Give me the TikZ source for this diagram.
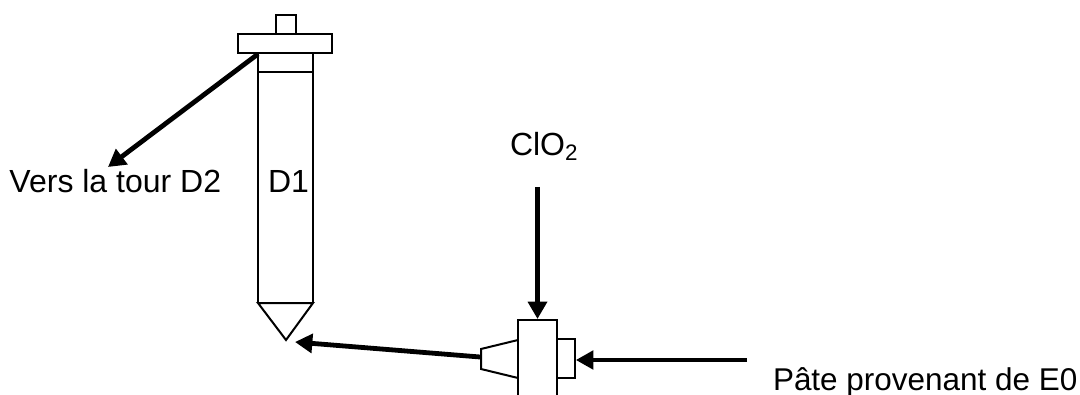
\documentclass[tikz,border=0pt]{standalone}
\usepackage{fontspec}
\setmainfont{Liberation Sans}
\usetikzlibrary{arrows.meta}
\tikzset{
  x=0.75pt,y=-0.75pt,
  part/.style={draw=black,line width=1.5pt,fill=white,inner sep=0pt,outer sep=0pt,rectangle,anchor=north west},
  outl/.style={draw=black,line width=1.5pt,line join=miter},
  flow/.style={draw=black,line width=3.6pt,-{Triangle[width=14pt,length=13pt]},shorten >=0pt},
  lab/.style={font=\fontsize{23.6pt}{28pt}\selectfont,inner sep=0pt,outer sep=0pt,text=black},
  labbig/.style={font=\fontsize{24pt}{28pt}\selectfont,inner sep=0pt,outer sep=0pt,text=black}
}
\begin{document}
\begin{tikzpicture}
\useasboundingbox (0,0) rectangle (1080,395);
% tower D1
\draw[outl] (258,53) -- (258,303) (313,53) -- (313,303);
\draw[outl] (258,72) -- (313,72);
\draw[outl] (258,303) -- (313,303) -- (286,340) -- cycle;
\node[part,minimum width=15pt,minimum height=14.25pt] (nub) at (275.5,15) {};
\node[part,minimum width=70.5pt,minimum height=14.25pt] (flange) at (238,34) {};
% mixer
\draw[outl] (518,340) -- (481,349) -- (481,369) -- (518,378);
\draw[outl] (557,339) -- (575,339) -- (575,378) -- (557,378);
\draw[outl] (518,395) -- (518,320) -- (557,320) -- (557,395);
\coordinate (flangeout) at (258,54);
\coordinate (d2end) at (108,167);
\coordinate (mixout) at (480,357);
\coordinate (conein) at (295,342);
\coordinate (clotop) at (537.5,187);
\coordinate (clobot) at (537.5,319);
\coordinate (pulpstart) at (747,360);
\coordinate (pulpend) at (576,360);
\draw[flow] (flangeout) -- (d2end);
\draw[flow] (mixout) -- (conein);
\draw[flow] (clotop) -- (clobot);
\draw[flow,line width=2.4pt] (pulpstart) -- (pulpend);
% labels
\node[labbig,anchor=base west] (tvers) at (9.5,193) {Vers la tour D2};
\node[labbig,anchor=base west] (td1) at (268,193) {D1};
\node[labbig,anchor=base west] (tclo) at (510,156) {ClO\textsubscript{2}};
\node[lab,anchor=base west] (tpate) at (773,390) {Pâte provenant de E0};
\end{tikzpicture}
\end{document}
